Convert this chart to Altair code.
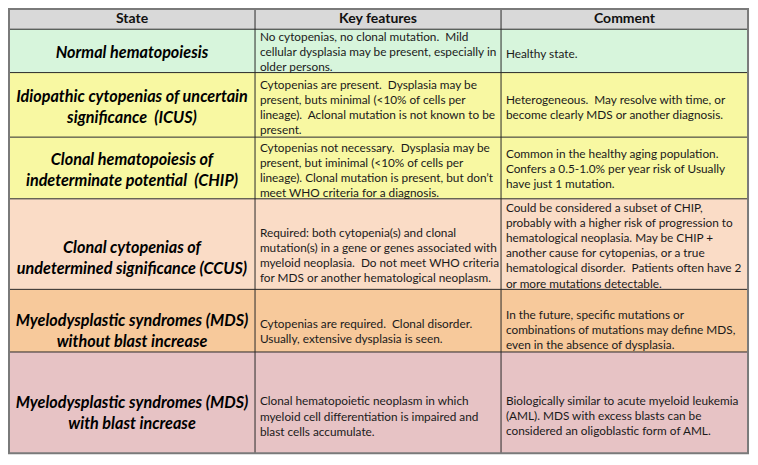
import altair as alt
import pandas as pd

# ---------------- data (table content) ----------------
HEADERS = ["State", "Key features", "Comment"]

STATES = [
    "Normal hematopoiesis",
    "Idiopathic cytopenias of uncertain\nsignificance  (ICUS)",
    "Clonal hematopoiesis of\nindeterminate potential  (CHIP)",
    "Clonal cytopenias of\nundetermined significance (CCUS)",
    "Myelodysplastic syndromes (MDS)\nwithout blast increase",
    "Myelodysplastic syndromes (MDS)\nwith blast increase",
]

FEATURES = [
    "No cytopenias, no clonal mutation.  Mild\ncellular dysplasia may be present, especially in\nolder persons.",
    "Cytopenias are present.  Dysplasia may be\npresent, buts minimal (<10% of cells per\nlineage).  Aclonal mutation is not known to be\npresent.",
    "Cytopenias not necessary.  Dysplasia may be\npresent, but iminimal (<10% of cells per\nlineage). Clonal mutation is present, but don\u2019t\nmeet WHO criteria for a diagnosis.",
    "Required: both cytopenia(s) and clonal\nmutation(s) in a gene or genes associated with\nmyeloid neoplasia.  Do not meet WHO criteria\nfor MDS or another hematological neoplasm.",
    "Cytopenias are required.  Clonal disorder.\nUsually, extensive dysplasia is seen.",
    "Clonal hematopoietic neoplasm in which\nmyeloid cell differentiation is impaired and\nblast cells accumulate.",
]

COMMENTS = [
    "Healthy state.",
    "Heterogeneous.   May resolve with time, or\nbecome clearly MDS or another diagnosis.",
    "Common in the healthy aging population.\nConfers a 0.5-1.0% per year risk of Usually\nhave just 1 mutation.",
    "Could be considered a subset of CHIP,\nprobably with a higher risk of progression to\nhematological neoplasia. May be CHIP +\nanother cause for cytopenias, or a true\nhematological disorder.  Patients often have 2\nor more mutations detectable.",
    "In the future, specific mutations or\ncombinations of mutations may define MDS,\neven in the absence of dysplasia.",
    "Biologically similar to acute myeloid leukemia\n(AML). MDS with excess blasts can be\nconsidered an oligoblastic form of AML.",
]

# ---------------- layout / style ----------------
REF_W, REF_H = 758, 465
PX_W, PX_H = 742, 449
COL_EDGES = [0, 252, 504, 757]
ROW_EDGES = [0, 21, 66, 133, 197, 291, 356, 461]
ROW_FILLS = ["#d9d9d9", "#d7f5dc", "#f8f8a2", "#f8f8a2", "#fadcc6", "#f7c99b", "#e7c3c5"]
# vertical placement of each cell's text block relative to its row centre (reference px)
SHIFT_LABEL = [2.5, 3, 2.5, 15, 11, 11.5]
SHIFT_FEAT = [1, 2.5, 2.5, 12, 11.5, 14.5]
SHIFT_COMM = [3.5, 3, 1, 1.5, 9.5, 14]
FONT = "Lato"
PAD = 5
BODY_LH = 15.2   # px
LABEL_LH = 21    # px
YK = PX_H / REF_H

xs = alt.Scale(domain=[0, REF_W], nice=False, zero=False)
ys = alt.Scale(domain=[0, REF_H], nice=False, zero=False, reverse=True)


def X(f):
    return alt.X(f, type="quantitative", scale=xs, axis=None)


def Y(f):
    return alt.Y(f, type="quantitative", scale=ys, axis=None)


def keep_spaces(s):
    return s.replace("  ", "\u00a0 ")


def first_line_y(mid, text, lh_px):
    n = text.count("\n") + 1
    return mid - (n - 1) * lh_px / 2 / YK


# row backgrounds
bg = pd.DataFrame({
    "x": [COL_EDGES[0]] * 7, "x2": [COL_EDGES[-1]] * 7,
    "y": ROW_EDGES[:-1], "y2": ROW_EDGES[1:], "fill": ROW_FILLS,
})
bg_layer = alt.Chart(bg).mark_rect().encode(
    x=X("x"), x2="x2", y=Y("y"), y2="y2",
    fill=alt.Fill("fill:N", scale=None),
)

# inner grid lines
hl = pd.DataFrame({"x": [COL_EDGES[0]] * 6, "x2": [COL_EDGES[-1]] * 6, "y": ROW_EDGES[1:-1]})
h_layer = alt.Chart(hl).mark_rule(color="#2a2a2a", strokeWidth=1).encode(
    x=X("x"), x2="x2", y=Y("y"))
vl = pd.DataFrame({"x": COL_EDGES[1:-1], "y": [ROW_EDGES[0]] * 2, "y2": [ROW_EDGES[-1]] * 2})
v_layer = alt.Chart(vl).mark_rule(color="#2a2a2a", strokeWidth=1).encode(
    x=X("x"), y=Y("y"), y2="y2")

# outer border
ob = pd.DataFrame({"x": [COL_EDGES[0]], "x2": [COL_EDGES[-1]], "y": [ROW_EDGES[0]], "y2": [ROW_EDGES[-1]]})
ob_layer = alt.Chart(ob).mark_rect(fillOpacity=0, stroke="#7a7a7a", strokeWidth=2).encode(
    x=X("x"), x2="x2", y=Y("y"), y2="y2")

# header texts
hd = pd.DataFrame({
    "t": HEADERS,
    "x": [(COL_EDGES[i] + COL_EDGES[i + 1]) / 2 for i in range(3)],
    "y": [(ROW_EDGES[0] + ROW_EDGES[1]) / 2] * 3,
})
hd_layer = alt.Chart(hd).mark_text(font=FONT, fontSize=14, fontWeight="bold",
                                   color="#111", baseline="middle", align="center").encode(
    x=X("x"), y=Y("y"), text="t:N")

mids = [(ROW_EDGES[i + 1] + ROW_EDGES[i + 2]) / 2 for i in range(6)]

st = pd.DataFrame({
    "t": [keep_spaces(s) for s in STATES],
    "x": [(COL_EDGES[0] + COL_EDGES[1]) / 2] * 6,
    "y": [first_line_y(m + d, s, LABEL_LH) for m, d, s in zip(mids, SHIFT_LABEL, STATES)],
})
st_layer = alt.Chart(st).mark_text(font=FONT, fontSize=16.2, fontWeight="bold", fontStyle="italic",
                                   color="#000", baseline="middle", align="center",
                                   lineBreak="\n", lineHeight=LABEL_LH).encode(
    x=X("x"), y=Y("y"), text="t:N")

ft = pd.DataFrame({
    "t": [keep_spaces(s) for s in FEATURES],
    "x": [COL_EDGES[1] + PAD] * 6,
    "y": [first_line_y(m + d, s, BODY_LH) for m, d, s in zip(mids, SHIFT_FEAT, FEATURES)],
})
ft_layer = alt.Chart(ft).mark_text(font=FONT, fontSize=11.8, color="#1a1a1a",
                                   baseline="middle", align="left",
                                   lineBreak="\n", lineHeight=BODY_LH).encode(
    x=X("x"), y=Y("y"), text="t:N")

cm = pd.DataFrame({
    "t": [keep_spaces(s) for s in COMMENTS],
    "x": [COL_EDGES[2] + PAD] * 6,
    "y": [first_line_y(m + d, s, BODY_LH) for m, d, s in zip(mids, SHIFT_COMM, COMMENTS)],
})
cm_layer = alt.Chart(cm).mark_text(font=FONT, fontSize=11.8, color="#1a1a1a",
                                   baseline="middle", align="left",
                                   lineBreak="\n", lineHeight=BODY_LH).encode(
    x=X("x"), y=Y("y"), text="t:N")

chart = alt.layer(
    bg_layer, h_layer, v_layer, ob_layer, hd_layer, st_layer, ft_layer, cm_layer
).properties(
    width=PX_W, height=PX_H, padding=0,
    autosize=alt.AutoSizeParams(type="fit", contains="padding"),
    background="white",
).configure_view(strokeWidth=0)

chart.save("out.html", embed_options={"renderer": "svg", "actions": False})
